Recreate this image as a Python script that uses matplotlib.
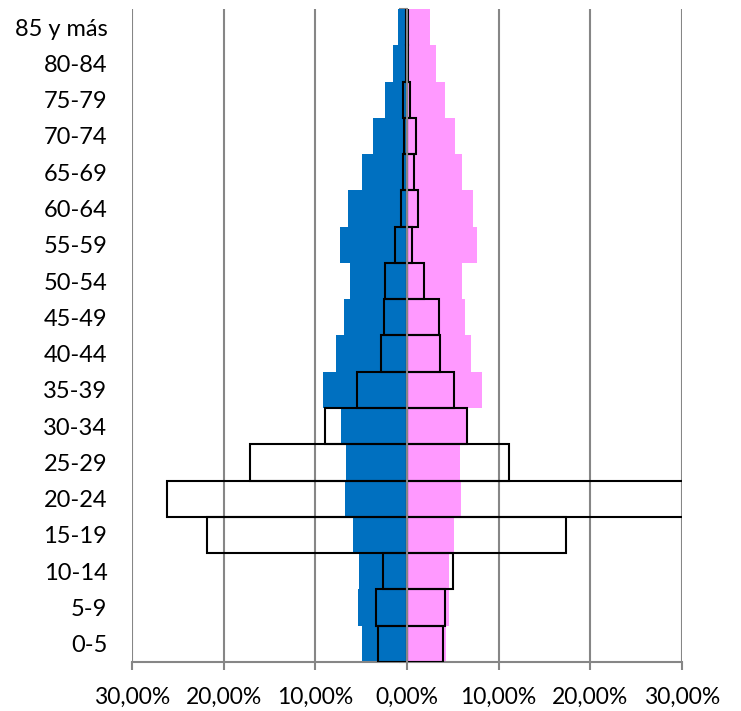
import matplotlib.pyplot as plt
from matplotlib.ticker import FuncFormatter, MultipleLocator

# grupos de edad (de abajo hacia arriba)
grupos = ['0-5', '5-9', '10-14', '15-19', '20-24', '25-29', '30-34', '35-39',
          '40-44', '45-49', '50-54', '55-59', '60-64', '65-69', '70-74',
          '75-79', '80-84', '85 y más']

# población de referencia (barras rellenas), en %
hombres = [4.91, 5.31, 5.2, 5.93, 6.8, 6.62, 7.24, 9.2,
           7.71, 6.84, 6.18, 7.35, 6.44, 4.87, 3.71, 2.37, 1.57, 0.95]
mujeres = [4.25, 4.61, 4.54, 5.16, 5.92, 5.74, 6.5, 8.21,
           6.94, 6.36, 6.03, 7.67, 7.23, 6.03, 5.2, 4.18, 3.12, 2.5]

# población comparada (barras sin relleno), en %
hombres_2 = [3.13, 3.35, 2.62, 21.85, 26.2, 17.16, 8.98, 5.46,
             2.84, 2.55, 2.4, 1.27, 0.62, 0.44, 0.37, 0.44, 0.1, 0.1]
mujeres_2 = [3.89, 4.18, 4.98, 17.37, 35.0, 11.1, 6.54, 5.16,
             3.63, 3.52, 1.82, 0.6, 1.16, 0.73, 1.0, 0.3, 0.15, 0.15]

plt.rcParams['font.family'] = ['Lato', 'DejaVu Sans']
gris = '#868686'
fig = plt.figure(figsize=(7.41, 7.11), dpi=100)
ax = fig.add_axes([0.1785, 0.069, 0.7415, 0.9183])

y = list(range(len(grupos)))
ax.barh(y, [-v for v in hombres], height=1.0, color='#0070C0', zorder=1)
ax.barh(y, mujeres, height=1.0, color='#FF99FF', zorder=1)
ax.barh(y, [-v for v in hombres_2], height=1.0, fill=False,
        edgecolor='black', linewidth=1.5, zorder=3)
ax.barh(y, mujeres_2, height=1.0, fill=False,
        edgecolor='black', linewidth=1.5, zorder=3)

ax.set_xlim(-30, 30)
ax.set_ylim(-0.5, len(grupos) - 0.5)

# eje x
ax.xaxis.set_major_locator(MultipleLocator(10))
ax.xaxis.set_major_formatter(FuncFormatter(
    lambda v, p: f'{abs(v):.2f}'.replace('.', ',') + '%'))
ax.grid(axis='x', color=gris, linewidth=1.5, zorder=0)
ax.set_axisbelow(True)
ax.tick_params(axis='x', direction='out', length=6, width=1.5, color=gris,
               labelsize=16.5, pad=12)

# eje y: etiquetas a la izquierda, eje vertical en el cero
ax.set_yticks(y)
ax.set_yticklabels(grupos)
ax.set_yticks([i - 0.5 for i in range(len(grupos) + 1)], minor=True)
ax.tick_params(axis='y', which='major', left=True, right=False, length=0,
               pad=18, labelsize=17)
ax.tick_params(axis='y', which='minor', left=False, right=True,
               direction='in', length=6, width=1.5, color=gris)

ax.spines['top'].set_visible(False)
ax.spines['left'].set_visible(False)
ax.spines['right'].set_position(('data', 0))
ax.spines['right'].set_color(gris)
ax.spines['right'].set_linewidth(1.5)
ax.spines['right'].set_zorder(4)
ax.spines['bottom'].set_color(gris)
ax.spines['bottom'].set_linewidth(1.5)

plt.savefig('out.png', dpi=100)
